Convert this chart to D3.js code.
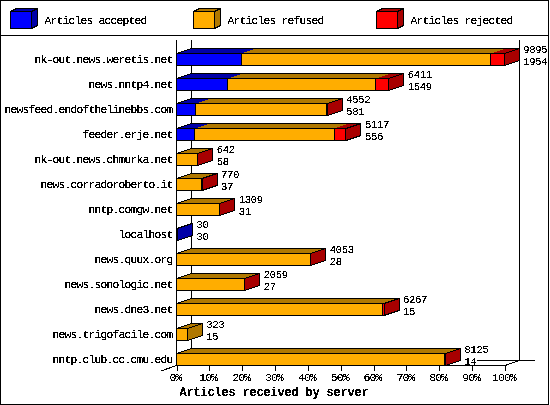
<!DOCTYPE html>
<html><head><meta charset="utf-8">
<script src="https://cdn.jsdelivr.net/npm/d3@7/dist/d3.min.js"></script>
<style>
html,body{margin:0;padding:0;background:#fff}
svg{display:block}
text{font-family:"Liberation Mono",monospace;font-size:11.5px;letter-spacing:-0.9px;fill:#000}
text.val{font-size:10.5px;letter-spacing:-0.3px}
</style></head><body><svg id="c" width="550" height="405"></svg>
<script>
const servers=["nk-out.news.weretis.net","news.nntp4.net","newsfeed.endofthelinebbs.com","feeder.erje.net","nk-out.news.chmurka.net","news.corradoroberto.it","nntp.comgw.net","localhost","news.quux.org","news.sonologic.net","news.dne3.net","news.trigofacile.com","nntp.club.cc.cmu.edu"];
const received=[9895,6411,4552,5117,642,770,1309,30,4053,2059,6267,323,8125];
const accepted=[1954,1549,581,556,58,37,31,30,28,27,15,15,14];
const refused=[7536,4470,3941,4209,579,718,1258,0,4015,2027,6192,308,8071];
const rejected=[405,392,30,352,5,15,20,0,10,5,60,0,40];
const seriesNames=["Articles accepted","Articles refused","Articles rejected"];
const seriesFront=["#0000ff","#ffad00","#ff0000"];
const seriesDark=["#0000a8","#b07800","#a80000"];
const pctTicks=[0,10,20,30,40,50,60,70,80,90,100];
const axisTitle="Articles received by server";

const svg=d3.select("#c");
const defs=svg.append("defs");
const f=defs.append("filter").attr("id","hard").attr("filterUnits","userSpaceOnUse")
 .attr("x",0).attr("y",0).attr("width",550).attr("height",405)
 .attr("color-interpolation-filters","sRGB");
f.append("feComponentTransfer").append("feFuncA").attr("type","discrete").attr("tableValues","0 0 1 1 1");

const DX=15,DY=5;
const pct=d3.scaleLinear().domain([0,100]).range([176.5,505]);
const val=d3.scaleLinear().domain([0,d3.max(received)]).range([176.5,504.2]);
const band=d3.scaleBand().domain(servers).range([40,365]);
const barH=12;
const line=(g,a,b,c,d)=>g.append("line").attr("x1",a).attr("y1",b).attr("x2",c).attr("y2",d).attr("stroke","#000");
const poly=(g,pts)=>g.append("polygon").attr("points",pts.map(p=>p.join(",")).join(" "));

const art=svg.append("g").attr("shape-rendering","crispEdges");
art.append("rect").attr("x",.5).attr("y",.5).attr("width",548).attr("height",404).attr("fill","#fff").attr("stroke","#000");
line(art,0,35.5,549,35.5);

// legend
const legendX=[10.5,193.5,376.5],textX=[44.5,227.5,410.5];
seriesNames.forEach((n,i)=>{
 const x=legendX[i],y=11.5,w=21,h=17,dx=6,dy=3;
 poly(art,[[x,y],[x+dx,y-dy],[x+w+dx,y-dy],[x+w,y]]).attr("fill",seriesDark[i]).attr("stroke","#000");
 poly(art,[[x+w,y],[x+w+dx,y-dy],[x+w+dx,y+h-dy],[x+w,y+h]]).attr("fill",seriesDark[i]).attr("stroke","#000");
 art.append("rect").attr("x",x).attr("y",y).attr("width",w).attr("height",h).attr("fill",seriesFront[i]).attr("stroke","#000");
});

// walls and floor
const yFront=365.5,yBack=360.5;
line(art,pct(0)+DX,40,pct(0)+DX,yBack);
line(art,pct(100)+14.5,40,pct(100)+14.5,yBack);
line(art,pct(0),40,pct(0),yFront);
line(art,477,yBack,535,yBack);
line(art,pct(0),yFront,pct(100),yFront);
line(art,161,371,pct(0),yFront);
line(art,pct(100),yFront,pct(100)+14.5,yBack);

// bars
servers.forEach((s,i)=>{
 const g=art.append("g");
 const yb=Math.round(band(s)+band.bandwidth())+.5, yt=yb-barH;
 const vals=[accepted[i],refused[i],rejected[i]];
 const lastIdx=d3.max(vals.map((v,k)=>v>0?k:-1));
 let cum=0;
 const segs=[];
 vals.forEach((v,k)=>{
  const a=val(cum),b=val(cum+v);cum+=v;
  if(v<=0)return;
  // a slice under 3px next to the axis is swallowed by its neighbour's outline
  if(k===0&&k!==lastIdx&&b-a<3){return;}
  segs.push({k,a:segs.length?a:val(0),b});
 });
 const x1=segs[segs.length-1].b,x0=val(0);
 segs.forEach(d=>poly(g,[[d.a,yt],[d.a+DX,yt-DY],[d.b+DX,yt-DY],[d.b,yt]]).attr("fill",seriesDark[d.k]));
 poly(g,[[x0,yt],[x0+DX,yt-DY],[x1+DX,yt-DY],[x1,yt]]).attr("fill","none").attr("stroke","#000");
 poly(g,[[x1,yt],[x1+DX,yt-DY],[x1+DX,yb-DY],[x1,yb]]).attr("fill",seriesDark[lastIdx]).attr("stroke","#000");
 segs.forEach(d=>g.append("rect").attr("x",d.a).attr("y",yt).attr("width",d.b-d.a).attr("height",barH).attr("fill",seriesFront[d.k]).attr("stroke","#000"));
});

const txt=svg.append("g").attr("filter","url(#hard)");
seriesNames.forEach((n,i)=>txt.append("text").attr("x",textX[i]).attr("y",23.5).text(n));

// category axis
const yAxis=txt.append("g").attr("transform","translate(176.5,6.5)")
 .call(d3.axisLeft(band).tickSize(0).tickPadding(4));
yAxis.select(".domain").remove();
yAxis.attr("font-family",null).attr("font-size",null);

// percent axis
const xAxis=art.append("g").attr("transform",`translate(0,${yFront})`)
 .call(d3.axisBottom(pct).tickValues(pctTicks).tickSize(5).tickFormat(""));
xAxis.select(".domain").remove();
pctTicks.forEach(t=>txt.append("text").attr("x",pct(t)-1).attr("y",381).attr("text-anchor","middle").text(t+"%"));

// value labels
servers.forEach((s,i)=>{
 const yt=Math.round(band(s)+band.bandwidth())-barH;
 const x=val(received[i])+DX+4;
 txt.append("text").attr("class","val").attr("x",x).attr("y",yt).text(received[i]);
 txt.append("text").attr("class","val").attr("x",x).attr("y",yt+12).text(accepted[i]);
});

txt.append("text").attr("x",274).attr("y",396).attr("text-anchor","middle")
 .style("font-weight","bold").style("font-size","12px").style("letter-spacing","-0.2px").text(axisTitle);
</script></body></html>
